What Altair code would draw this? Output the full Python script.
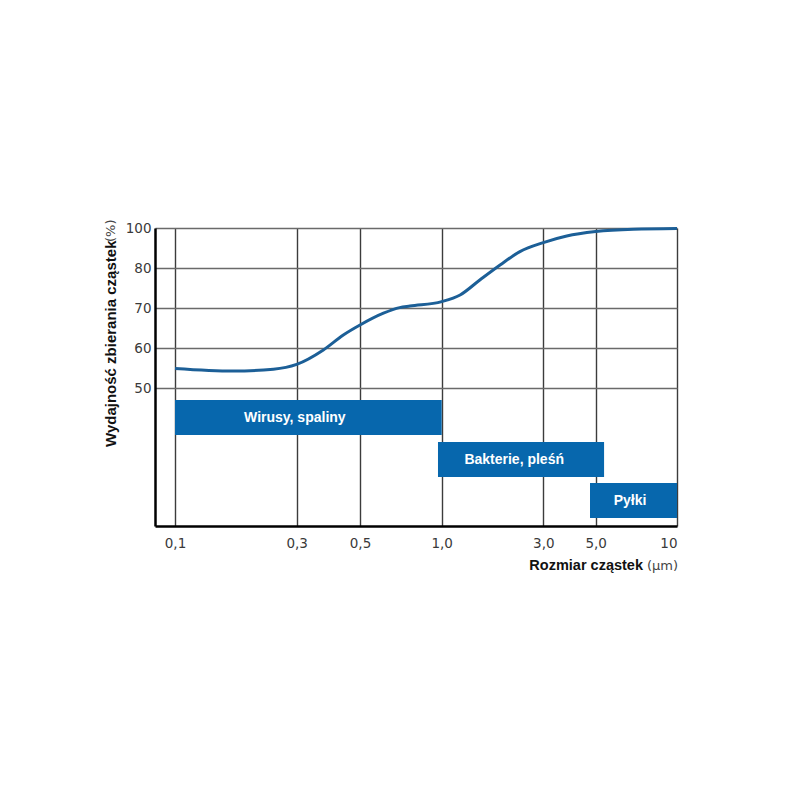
import altair as alt
import pandas as pd

# ---- data ----
size_um = [0.1, 0.169, 0.243, 0.3, 0.372, 0.437, 0.5, 0.61, 0.70, 0.764,
           1.0, 1.22, 1.51, 1.88, 2.33, 3.0, 3.77, 5.0, 6.89, 10.0]
efficiency = [54.9, 54.25, 54.7, 55.9, 59.5, 63.25, 65.75, 68.7, 70.1, 70.5,
              71.6, 73.25, 77.0, 81.5, 88.2, 92.7, 96.0, 98.2, 99.35, 99.7]

box_labels = ["Wirusy, spaliny", "Bakterie, pleśń", "Pyłki"]
box_from = [0.1, 0.969, 4.73]
box_to = [1.0, 5.37, 10.0]
box_top = [47.0, 36.5, 26.25]
box_bottom = [38.25, 27.75, 17.5]
box_label_x = [0.295, 2.19, 6.7]

x_ticks = [0.1, 0.3, 0.5, 1.0, 3.0, 5.0, 10.0]
y_ticks = [50, 60, 70, 80, 100]

y_title_bold = "Wydajność zbierania cząstek"
y_title_unit = "(%)"
x_title_bold = "Rozmiar cząstek"
x_title_unit = "(µm)"

W, H = 522, 298
BOX_BLUE = "#0767ad"
LINE_BLUE = "#1c5f97"

# piecewise scales (the printed axes are not uniform)
x_scale = alt.Scale(type="log", domain=[0.08] + x_ticks,
                    range=[0, 20, 141.7, 205, 286.7, 388.3, 440.7, 522], nice=False)
y_scale = alt.Scale(type="linear", domain=[15.5, 50, 60, 70, 80, 100],
                    range=[298, 160, 120, 80, 40, 0], nice=False, zero=False)

curve_df = pd.DataFrame({"size": size_um, "eff": efficiency})
box_df = pd.DataFrame({"label": box_labels, "x1": box_from, "x2": box_to,
                       "y1": box_top, "y2": box_bottom, "lx": box_label_x})
box_df["ly"] = (box_df["y1"] + box_df["y2"]) / 2

x_axis = alt.Axis(values=x_ticks, grid=True, ticks=False, title=None,
                  labelExpr="datum.value == 10 ? '10' : replace(format(datum.value, '.1f'), '.', ',')",
                  labelFont="DejaVu Sans", labelFontSize=13.5, labelColor="#3a3a3a",
                  labelPadding=10, domainColor="black", domainWidth=2.5,
                  gridColor="#3c3c3c", gridWidth=1.4, labelFlush=True)
y_axis = alt.Axis(values=y_ticks, grid=True, ticks=False, title=None,
                  labelFont="DejaVu Sans", labelFontSize=13.5, labelColor="#3a3a3a",
                  labelPadding=4, domainColor="black", domainWidth=2.5,
                  gridColor="#6a6a6a", gridWidth=1.4)

base_axes = alt.Chart(curve_df).mark_line(opacity=0).encode(
    x=alt.X("size:Q", scale=x_scale, axis=x_axis),
    y=alt.Y("eff:Q", scale=y_scale, axis=y_axis),
)

boxes = alt.Chart(box_df).mark_rect(color=BOX_BLUE).encode(
    x=alt.X("x1:Q", scale=x_scale), x2="x2:Q",
    y=alt.Y("y1:Q", scale=y_scale), y2="y2:Q",
)

box_text = alt.Chart(box_df).mark_text(
    color="white", font="Liberation Sans", fontWeight="bold", fontSize=14,
    align="center", baseline="middle"
).encode(
    x=alt.X("lx:Q", scale=x_scale), y=alt.Y("ly:Q", scale=y_scale), text="label:N"
)

curve = alt.Chart(curve_df).mark_line(
    color=LINE_BLUE, strokeWidth=3, interpolate="monotone"
).encode(
    x=alt.X("size:Q", scale=x_scale), y=alt.Y("eff:Q", scale=y_scale)
)

title_df = pd.DataFrame({"t": [0]})
yt1 = alt.Chart(title_df).mark_text(
    font="Liberation Sans", fontWeight="bold", fontSize=15, color="#111",
    angle=270, align="left", baseline="middle"
).encode(x=alt.value(-44), y=alt.value(219), text=alt.value(y_title_bold))
yt2 = alt.Chart(title_df).mark_text(
    font="DejaVu Sans", fontSize=13, color="#444",
    angle=270, align="left", baseline="middle"
).encode(x=alt.value(-44), y=alt.value(14), text=alt.value(y_title_unit))
xt1 = alt.Chart(title_df).mark_text(
    font="Liberation Sans", fontWeight="bold", fontSize=14.5, color="#111",
    align="right", baseline="middle"
).encode(x=alt.value(488), y=alt.value(338), text=alt.value(x_title_bold))
xt2 = alt.Chart(title_df).mark_text(
    font="DejaVu Sans", fontSize=13, color="#444",
    align="left", baseline="middle"
).encode(x=alt.value(492), y=alt.value(338), text=alt.value(x_title_unit))

chart = alt.layer(base_axes, boxes, box_text, curve, yt1, yt2, xt1, xt2).properties(
    width=W, height=H,
    autosize=alt.AutoSizeParams(type="none"),
    padding={"left": 147, "top": 220, "right": 110, "bottom": 250},
).configure_view(stroke="black", strokeWidth=2.5).configure(background="white")

chart.save("out.html", embed_options={"renderer": "svg", "actions": False})
